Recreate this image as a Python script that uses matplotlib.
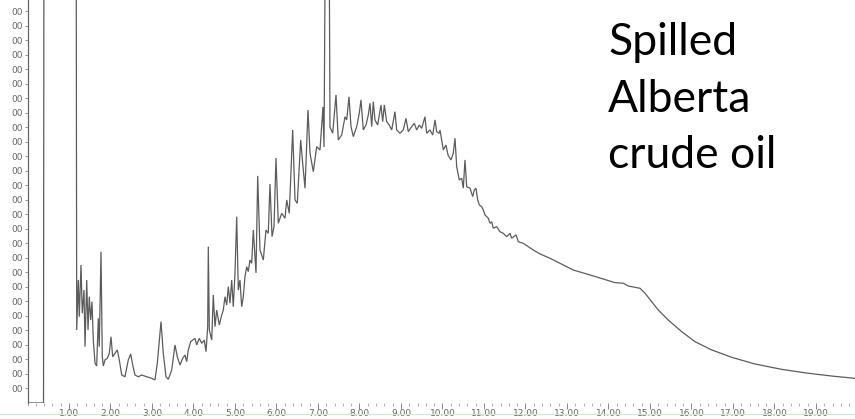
import matplotlib
matplotlib.use("Agg")
import matplotlib.pyplot as plt
from matplotlib.ticker import MultipleLocator, FixedLocator
from matplotlib.lines import Line2D

# Total ion chromatogram of a spilled Alberta crude oil
# retention time (min) and detector abundance (arbitrary units, one unit per y tick)
retention_time = [
    0.000, 0.386, 0.398, 1.169, 1.186, 1.224, 1.248, 1.289, 1.320, 1.361,
    1.386, 1.427, 1.458, 1.489, 1.523, 1.554, 1.586, 1.627, 1.667, 1.706,
    1.730, 1.771, 1.802, 1.827, 1.867, 1.923, 1.971, 2.012, 2.053, 2.108,
    2.164, 2.212, 2.270, 2.349, 2.429, 2.487, 2.535, 2.590, 2.670, 2.752,
    2.872, 2.993, 3.072, 3.128, 3.217, 3.272, 3.337, 3.393, 3.475, 3.554,
    3.610, 3.675, 3.740, 3.795, 3.836, 3.875, 3.933, 3.981, 4.036, 4.077,
    4.140, 4.198, 4.260, 4.301, 4.342, 4.357, 4.381, 4.439, 4.477, 4.518,
    4.559, 4.622, 4.680, 4.718, 4.759, 4.800, 4.839, 4.880, 4.920, 4.959,
    5.000, 5.041, 5.080, 5.120, 5.161, 5.200, 5.241, 5.282, 5.320, 5.361,
    5.402, 5.441, 5.506, 5.547, 5.602, 5.682, 5.747, 5.802, 5.843, 5.892,
    5.940, 5.988, 6.043, 6.125, 6.205, 6.246, 6.308, 6.390, 6.446, 6.501,
    6.583, 6.631, 6.687, 6.759, 6.807, 6.887, 6.969, 7.048, 7.120, 7.145,
    7.193, 7.258, 7.289, 7.354, 7.434, 7.489, 7.571, 7.651, 7.692, 7.747,
    7.795, 7.851, 7.933, 7.995, 8.036, 8.092, 8.157, 8.212, 8.253, 8.294,
    8.333, 8.373, 8.439, 8.477, 8.518, 8.559, 8.598, 8.655, 8.718, 8.776,
    8.855, 8.896, 8.976, 9.055, 9.120, 9.176, 9.258, 9.320, 9.378, 9.441,
    9.499, 9.578, 9.619, 9.699, 9.764, 9.819, 9.860, 9.923, 9.940, 10.019,
    10.084, 10.133, 10.205, 10.260, 10.301, 10.342, 10.405, 10.463, 10.501, 10.542,
    10.583, 10.663, 10.728, 10.766, 10.807, 10.848, 10.887, 10.945, 10.983, 11.024,
    11.104, 11.145, 11.186, 11.224, 11.306, 11.386, 11.465, 11.547, 11.627, 11.667,
    11.771, 11.827, 11.947, 12.067, 12.188, 12.349, 12.590, 12.831, 13.152, 13.554,
    13.957, 14.157, 14.357, 14.477, 14.759, 14.880, 15.041, 15.200, 15.441, 15.764,
    16.084, 16.487, 16.969, 17.530, 18.173, 18.814, 19.378, 19.940,
]
abundance = [
    0.00, 0.00, 40.0, 40.0, 5.03, 8.48, 5.95, 9.52, 6.19, 7.79,
    3.88, 8.48, 5.03, 7.33, 5.72, 6.99, 4.34, 2.74, 2.55, 5.84,
    3.88, 10.43, 3.19, 2.55, 2.97, 3.08, 3.43, 4.57, 3.19, 3.43,
    3.66, 2.97, 1.93, 1.81, 2.97, 3.38, 2.62, 1.93, 1.81, 1.93,
    1.81, 1.70, 1.59, 2.74, 5.61, 3.43, 1.81, 1.63, 2.28, 4.00,
    3.19, 2.62, 3.08, 3.31, 2.85, 3.66, 4.23, 4.34, 4.46, 4.00,
    4.46, 4.12, 4.34, 3.54, 5.26, 10.78, 5.03, 4.34, 7.45, 5.26,
    6.41, 5.38, 6.07, 6.41, 7.33, 6.76, 8.02, 6.88, 8.48, 6.64,
    8.94, 12.85, 7.79, 8.48, 6.64, 7.33, 8.71, 9.40, 9.06, 9.86,
    9.63, 11.93, 8.97, 15.66, 10.55, 9.86, 11.93, 11.70, 15.10, 11.47,
    12.16, 16.90, 12.39, 13.08, 12.74, 14.00, 13.08, 18.83, 14.00, 13.77,
    18.14, 16.53, 14.81, 20.21, 17.22, 15.95, 17.68, 17.45, 20.41, 17.66,
    40.0, 40.0, 19.03, 18.60, 21.24, 18.14, 18.48, 19.74, 19.52, 21.12,
    19.06, 18.37, 19.06, 19.98, 20.90, 18.83, 19.17, 19.86, 20.67, 19.06,
    20.78, 19.52, 19.17, 19.86, 20.55, 19.40, 20.55, 19.40, 19.17, 18.83,
    20.09, 18.83, 18.60, 18.83, 19.63, 18.71, 19.06, 19.29, 18.83, 19.17,
    18.94, 19.74, 18.60, 18.83, 18.48, 19.52, 18.71, 18.60, 18.83, 17.45,
    17.79, 17.10, 16.76, 17.22, 18.26, 16.30, 15.38, 15.50, 14.81, 16.76,
    14.92, 14.81, 14.23, 14.69, 14.81, 14.00, 13.66, 13.54, 13.31, 12.97,
    12.74, 12.39, 12.50, 12.05, 12.16, 11.81, 11.70, 11.47, 11.70, 11.36,
    11.59, 11.12, 11.01, 10.78, 10.55, 10.28, 9.98, 9.63, 9.17, 8.83,
    8.48, 8.30, 8.26, 8.07, 7.91, 7.57, 6.99, 6.41, 5.72, 4.92,
    4.23, 3.66, 3.15, 2.69, 2.32, 2.05, 1.86, 1.70,
]
x_major_ticks = [1, 2, 3, 4, 5, 6, 7, 8, 9, 10, 11, 12, 13, 14, 15, 16, 17, 18, 19]
x_tick_labels = ["%.2f" % v for v in x_major_ticks]
y_ticks = list(range(1, 28))
y_tick_labels = ["00"] * len(y_ticks)
sample_label = "Spilled\nAlberta\ncrude oil"

W, H = 855, 419
fig = plt.figure(figsize=(W / 100, H / 100), dpi=100)
ax = fig.add_axes([27.5 / W, 16 / H, 1 - 27.5 / W, 1 - 16 / H])

ax.plot(retention_time, abundance, color="#5c5c5c", lw=0.9, solid_joinstyle="miter")
ax.set_xlim(0, 19.94)
ax.set_ylim(0, 27.79)

for s in ("top", "right", "bottom"):
    ax.spines[s].set_visible(False)
ax.spines["left"].set_color("#666666")
ax.spines["left"].set_linewidth(0.9)

ax.xaxis.set_major_locator(FixedLocator(x_major_ticks))
ax.set_xticklabels(x_tick_labels)
ax.xaxis.set_minor_locator(MultipleLocator(0.2))
ax.tick_params(axis="x", which="major", length=4, width=0.7, color="#888888",
               labelsize=6.5, labelcolor="#666666", pad=0.5)
ax.tick_params(axis="x", which="minor", length=2, width=0.6, color="#a0a0a0")

ax.yaxis.set_major_locator(FixedLocator(y_ticks))
ax.set_yticklabels(y_tick_labels)
ax.tick_params(axis="y", which="major", length=2.5, width=0.6, color="#888888",
               labelsize=6.5, labelcolor="#666666", pad=1)
for lab in ax.get_xticklabels() + ax.get_yticklabels():
    lab.set_fontfamily("DejaVu Sans")

# faint rule along the bottom of the page
fig.add_artist(Line2D([0, 1], [1 - 413.5 / H] * 2, transform=fig.transFigure,
                      color="#cdeccd", lw=0.8))

# sample name, one line per row with a fixed baseline pitch
for i, line in enumerate(sample_label.split("\n")):
    fig.text(608 / W, 1 - (55 + 56.5 * i) / H, line, ha="left", va="baseline",
             fontsize=32, family="Lato", color="black")

fig.savefig("out.png", dpi=100)
